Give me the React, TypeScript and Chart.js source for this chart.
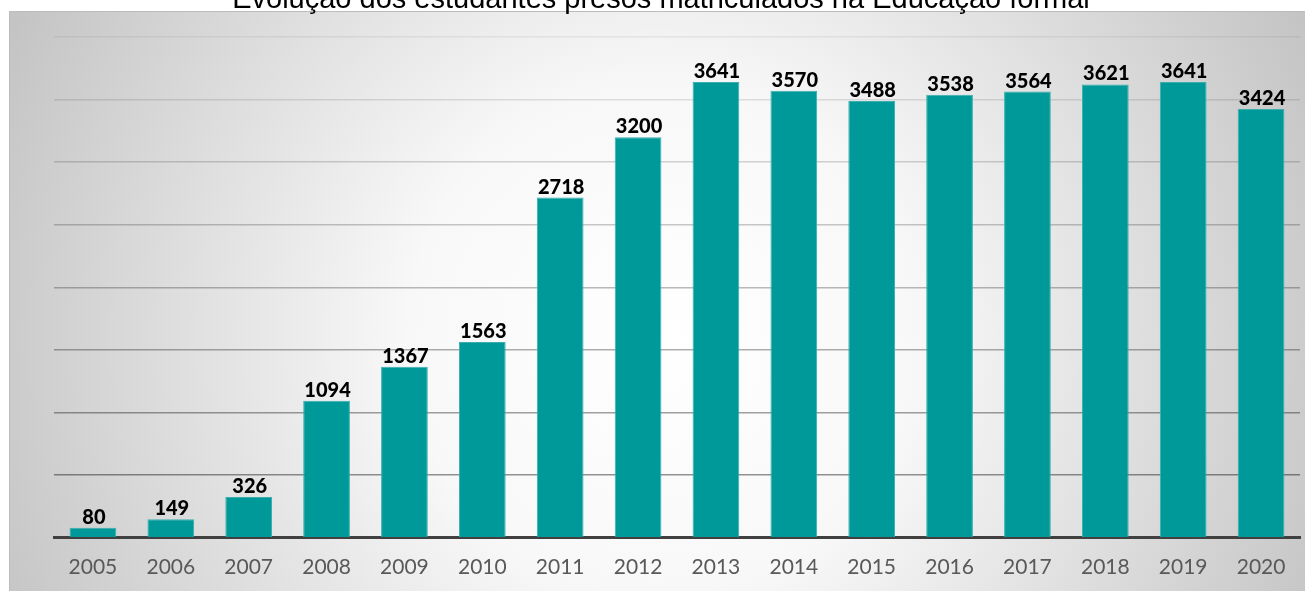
import React, { useEffect, useRef } from "react";
import { Chart, registerables } from "chart.js";

Chart.register(...registerables);

const chartTitle = "Evolução dos estudantes presos matriculados na Educação formal";
const categories = ["2005", "2006", "2007", "2008", "2009", "2010", "2011", "2012", "2013", "2014", "2015", "2016", "2017", "2018", "2019", "2020"];
const students = [80, 149, 326, 1094, 1367, 1563, 2718, 3200, 3641, 3570, 3488, 3538, 3564, 3621, 3641, 3424];
const yMin = 0;
const yMax = 4000;
const yStep = 500;

const backgroundPlugin = {
  id: "bgBox",
  beforeDraw(chart: any) {
    const ctx = chart.ctx;
    ctx.save();
    ctx.fillStyle = "#ffffff";
    ctx.fillRect(0, 0, chart.width, chart.height);
    const x0 = 9, y0 = 11, x1 = 1305, y1 = chart.height + 2;
    const g = ctx.createRadialGradient(660, 340, 0, 660, 340, 720);
    g.addColorStop(0, "#ffffff");
    g.addColorStop(0.35, "#f8f8f8");
    g.addColorStop(1, "#c4c4c4");
    ctx.fillStyle = g;
    ctx.fillRect(x0, y0, x1 - x0, y1 - y0);
    ctx.strokeStyle = "#bcbcbc";
    ctx.lineWidth = 1;
    ctx.beginPath();
    ctx.moveTo(x0 + 0.5, y1);
    ctx.lineTo(x0 + 0.5, y0 + 0.5);
    ctx.lineTo(x1, y0 + 0.5);
    ctx.stroke();
    ctx.restore();
  },
  afterDraw(chart: any) {
    const ctx = chart.ctx;
    ctx.save();
    ctx.fillStyle = "#000000";
    ctx.font = "29px 'Liberation Sans', Arial, sans-serif";
    ctx.textAlign = "center";
    ctx.textBaseline = "alphabetic";
    ctx.fillText(chartTitle, 661, 8);
    ctx.restore();
  },
};

const labelPlugin = {
  id: "barLabels",
  afterDatasetsDraw(chart: any) {
    const ctx = chart.ctx;
    const meta = chart.getDatasetMeta(0);
    const data = chart.data.datasets[0].data;
    ctx.save();
    ctx.fillStyle = "#000000";
    ctx.font = "900 20px Lato, 'Open Sans', sans-serif";
    ctx.textAlign = "center";
    ctx.textBaseline = "alphabetic";
    meta.data.forEach((bar: any, i: number) => {
      ctx.fillText(String(data[i]), bar.x + 1, bar.y - 4);
    });
    ctx.restore();
  },
};

export default function App() {
  const ref = useRef<HTMLCanvasElement | null>(null);
  useEffect(() => {
    if (!ref.current) return;
    const chart = new Chart(ref.current, {
      type: "bar",
      data: {
        labels: categories,
        datasets: [
          {
            data: students,
            backgroundColor: "#009999",
            borderColor: "#3aaeae",
            borderWidth: 1,
            categoryPercentage: 1,
            barPercentage: 0.6,
          },
        ],
      },
      options: {
        responsive: false,
        animation: false,
        layout: { padding: { top: 37, left: 54, right: 7, bottom: -6 } },
        plugins: {
          legend: { display: false },
          title: { display: false },
          tooltip: { enabled: false },
        },
        scales: {
          x: {
            grid: { display: false, drawTicks: false },
            border: { display: true, color: "#404040", width: 3 },
            ticks: {
              color: "#595959",
              font: { family: "Lato, 'Open Sans', sans-serif", size: 21 },
              padding: 17,
            },
          },
          y: {
            min: yMin,
            max: yMax,
            ticks: { display: false, stepSize: yStep },
            border: { display: false },
            grid: {
              drawTicks: false,
              lineWidth: 1.5,
              color: (c: any) => {
                const v = c.tick ? c.tick.value : 0;
                if (v <= 0) return "rgba(0,0,0,0)";
                const a = 0.06 + ((yMax - v) / (yMax - yStep)) * 0.36;
                return `rgba(0,0,0,${a.toFixed(3)})`;
              },
            },
          },
        },
      },
      plugins: [backgroundPlugin, labelPlugin],
    });
    return () => chart.destroy();
  }, []);
  return (
    <div style={{ position: "absolute", left: 0, top: 0, width: 1307, height: 591 }}>
      <canvas ref={ref} width={1307} height={591} />
    </div>
  );
}
